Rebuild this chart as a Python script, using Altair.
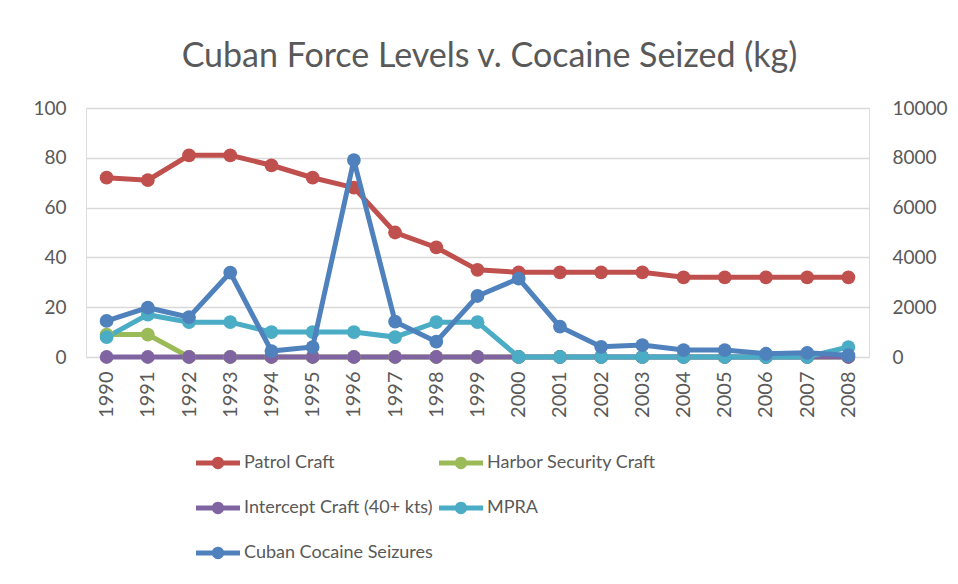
import altair as alt
import pandas as pd

years = ["1990", "1991", "1992", "1993", "1994", "1995", "1996", "1997", "1998", "1999",
         "2000", "2001", "2002", "2003", "2004", "2005", "2006", "2007", "2008"]
patrol = [72, 71, 81, 81, 77, 72, 68, 50, 44, 35, 34, 34, 34, 34, 32, 32, 32, 32, 32]
harbor = [9, 9, 0, 0, 0, 0, 0, 0, 0, 0, 0, 0, 0, 0, 0, 0, 0, 0, 0]
intercept = [0, 0, 0, 0, 0, 0, 0, 0, 0, 0, 0, 0, 0, 0, 0, 0, 0, 0, 0]
mpra = [8, 17, 14, 14, 10, 10, 10, 8, 14, 14, 0, 0, 0, 0, 0, 0, 0, 0, 4]
seizures = [1450, 1980, 1600, 3390, 240, 400, 7910, 1420, 615, 2450, 3150, 1220, 410, 480,
            280, 280, 130, 170, 70]

names = ["Patrol Craft", "Harbor Security Craft", "Intercept Craft (40+ kts)", "MPRA",
         "Cuban Cocaine Seizures"]
colors = ["#C0504D", "#9BBB59", "#8064A2", "#4BACC6", "#4F81BD"]

left_series = [patrol, harbor, intercept, mpra]
rows = []
for i, vals in enumerate(left_series):
    for y, v in zip(years, vals):
        rows.append({"year": y, "series": names[i], "value": v, "order": i, "hex": colors[i]})
left_df = pd.DataFrame(rows)
right_df = pd.DataFrame({"year": years, "series": names[4], "value": seizures,
                         "hex": colors[4]})

FONT = "Lato"
TXT = "#595959"

legend_path = ("M-1,-0.11L1,-0.11L1,0.11L-1,0.11Z "
               "M-0.28,0A0.28,0.28 0 1,1 0.28,0A0.28,0.28 0 1,1 -0.28,0Z")

legend = alt.Legend(
    orient="none", legendX=110, legendY=333, columns=2, direction="horizontal",
    symbolType=legend_path, symbolSize=1936, symbolStrokeWidth=0, symbolOpacity=1,
    labelOffset=4, columnPadding=6, rowPadding=14, padding=0,
    labelFontSize=18, labelColor=TXT, labelFont=FONT, labelLimit=400,
)

fill_enc = alt.Color("series:N", scale=alt.Scale(domain=names, range=colors), legend=legend,
                     title="")
stroke_enc = alt.Stroke("hex:N", scale=None)

x_enc = alt.X(
    "year:O",
    sort=years,
    title=None,
    axis=alt.Axis(labelAngle=-90, labelPadding=14, ticks=False, domain=False,
                  labelFontSize=20, labelColor=TXT, labelFont=FONT, grid=False),
)

y_left = alt.Y(
    "value:Q",
    scale=alt.Scale(domain=[0, 100], nice=False),
    title=None,
    axis=alt.Axis(values=[0, 20, 40, 60, 80, 100], ticks=False, domain=False,
                  labelPadding=20, labelFontSize=19, labelColor=TXT, labelFont=FONT,
                  grid=True, gridColor="#D9D9D9", gridWidth=1.5),
)
y_right = alt.Y(
    "value:Q",
    scale=alt.Scale(domain=[0, 10000], nice=False),
    title=None,
    axis=alt.Axis(orient="right", values=[0, 2000, 4000, 6000, 8000, 10000], format="d",
                  ticks=False, domain=False, labelPadding=23, labelFontSize=19,
                  labelColor=TXT, labelFont=FONT, grid=False),
)

left_lines = alt.Chart(left_df).mark_line(strokeWidth=5).encode(
    x=x_enc, y=y_left, stroke=stroke_enc, detail="series:N", order="order:Q",
)
left_points = alt.Chart(left_df).mark_point(filled=True, size=190, opacity=1).encode(
    x=x_enc, y=y_left, color=fill_enc,
)
left = alt.layer(left_lines, left_points)

right_lines = alt.Chart(right_df).mark_line(strokeWidth=5).encode(
    x=x_enc, y=y_right, stroke=stroke_enc,
)
right_points = alt.Chart(right_df).mark_point(filled=True, size=190, opacity=1).encode(
    x=x_enc, y=y_right, color=fill_enc,
)
right = alt.layer(right_lines, right_points)

chart = alt.layer(left, right).resolve_scale(y="independent").properties(
    width=783,
    height=249,
    title=alt.TitleParams(
        "Cuban Force Levels v. Cocaine Seized (kg)",
        font=FONT, fontSize=34, fontWeight="normal", color=TXT,
        anchor="middle", frame="group", offset=25, dx=12,
    ),
    autosize=alt.AutoSizeParams(type="none"),
    padding={"left": 86, "top": 108, "right": 89, "bottom": 227},
).configure_view(stroke=None).configure(background="white")

chart.save("out.html", embed_options={"renderer": "svg", "actions": False})
